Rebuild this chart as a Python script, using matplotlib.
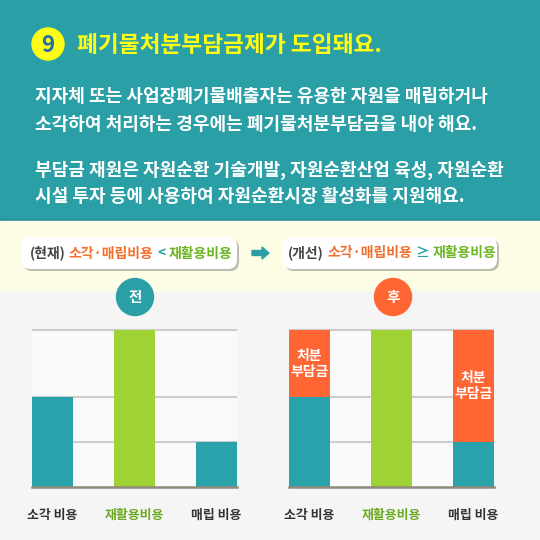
import matplotlib
matplotlib.use("Agg")
import matplotlib.pyplot as plt
from matplotlib.patches import Rectangle, Circle, FancyBboxPatch, FancyArrow
from matplotlib.offsetbox import TextArea, HPacker, AnnotationBbox

plt.rcParams['font.family'] = ['Noto Sans CJK KR', 'DejaVu Sans']

# ---------------- data ----------------
categories = ['소각 비용', '재활용비용', '매립 비용']
label_colors = ['#333333', '#6aaa1f', '#333333']
before_costs = [2.0, 3.5, 1.0]
after_base_costs = [2.0, 3.5, 1.0]
after_burden = [1.5, 0.0, 2.5]
before_colors = ['#29a2ab', '#9ed235', '#29a2ab']
after_colors = ['#29a2ab', '#9ed235', '#29a2ab']
grid_levels = [1.0, 2.0, 3.5]
burden_label = '처분\n부담금'

title_num = '9'
title = '폐기물처분부담금제가 도입돼요.'
body_lines = ['지자체 또는 사업장폐기물배출자는 유용한 자원을 매립하거나',
              '소각하여 처리하는 경우에는 폐기물처분부담금을 내야 해요.',
              '부담금 재원은 자원순환 기술개발, 자원순환산업 육성, 자원순환',
              '시설 투자 등에 사용하여 자원순환시장 활성화를 지원해요.']
pill_left = [('(현재)', '#444444'), ('소각·매립비용', '#f26f2e'), ('<', '#2a9fa6'), ('재활용비용', '#6cb523')]
pill_right = [('(개선)', '#444444'), ('소각·매립비용', '#f26f2e'), ('≥', '#2a9fa6'), ('재활용비용', '#6cb523')]
badge_before = '전'
badge_after = '후'

TEAL = '#2a9fa6'
ORANGE = '#ff6633'

W = H = 540
fig = plt.figure(figsize=(5.4, 5.4), dpi=100)
fig.patch.set_facecolor('#f5f5f5')

bg = fig.add_axes([0, 0, 1, 1])
bg.set_xlim(0, W)
bg.set_ylim(H, 0)
bg.axis('off')

# backgrounds
bg.add_patch(Rectangle((0, 0), W, 221, color=TEAL, zorder=0))
bg.add_patch(Rectangle((0, 219), W, 2, color='#23939a', zorder=0))
bg.add_patch(Rectangle((0, 221), W, 69, color='#fdfde6', zorder=0))

# title
bg.add_patch(Circle((48, 44), 16, color='#ffff14', zorder=2))
bg.text(48, 45, title_num, color='#1f6fae', fontsize=16, fontweight='bold',
        ha='center', va='center', zorder=3)
bg.text(77, 45, title, color='#ffff14', fontsize=16.3, fontweight='bold',
        ha='left', va='center', zorder=3)
for y, line in zip([97, 125, 170, 197], body_lines):
    bg.text(35, y, line, color='white', fontsize=13, fontweight='bold',
            ha='left', va='center', zorder=3)

# pills
def pill(x0, x1, y0, y1, parts):
    bg.add_patch(FancyBboxPatch((x0 + 2, y0 + 2), x1 - x0, y1 - y0,
                                boxstyle='round,pad=0,rounding_size=9',
                                fc='#bdbdb0', ec='none', zorder=1))
    bg.add_patch(FancyBboxPatch((x0, y0), x1 - x0, y1 - y0,
                                boxstyle='round,pad=0,rounding_size=9',
                                fc='white', ec='none', zorder=2))
    children = [TextArea(t, textprops=dict(color=c, fontsize=10, fontweight='bold'))
                for t, c in parts]
    pack = HPacker(children=children, sep=2.5, pad=0, align='baseline')
    ab = AnnotationBbox(pack, ((x0 + x1) / 2 + 2, (y0 + y1) / 2), xycoords='data',
                        frameon=False, box_alignment=(0.5, 0.5), pad=0, zorder=3)
    bg.add_artist(ab)

pill(21, 237, 237, 269, pill_left)
pill(283, 497, 237, 269, pill_right)
bg.add_patch(FancyArrow(252, 253, 10, 0, width=5, head_width=12, head_length=7,
                        length_includes_head=False, color=TEAL, zorder=3))

# badges
bg.add_patch(Circle((135, 297), 18.5, color=TEAL, zorder=3))
bg.text(135, 297, badge_before, color='white', fontsize=10.5, fontweight='bold',
        ha='center', va='center', zorder=4)
bg.add_patch(Circle((393, 297), 18.5, color=ORANGE, zorder=3))
bg.text(393, 297, badge_after, color='white', fontsize=10.5, fontweight='bold',
        ha='center', va='center', zorder=4)

# bar charts
def px_axes(x0, x1, ytop, ybot):
    return fig.add_axes([x0 / W, 1 - ybot / H, (x1 - x0) / W, (ybot - ytop) / H])

xpos = [0, 2, 4]

def setup(ax):
    ax.set_xlim(-0.5, 4.5)
    ax.set_ylim(0, max(grid_levels))
    ax.set_facecolor('#fafafa')
    for s in ax.spines.values():
        s.set_visible(False)
    ax.hlines(grid_levels, -0.5, 4.5, colors='#cdcdcd', lw=1.5, zorder=1, clip_on=False)
    ax.axhline(0, color='#8f8a7a', lw=1.8, zorder=4, clip_on=False)
    ax.set_yticks([])
    ax.set_xticks(xpos)
    ax.set_xticklabels(categories, fontsize=9.3, fontweight='bold')
    for lbl, c in zip(ax.get_xticklabels(), label_colors):
        lbl.set_color(c)
    ax.tick_params(axis='x', length=0, pad=15)

ax1 = px_axes(32, 237, 330, 487)
setup(ax1)
ax1.bar(xpos, before_costs, width=1.0, color=before_colors, zorder=2)

ax2 = px_axes(289, 494, 330, 487)
setup(ax2)
ax2.bar(xpos, after_base_costs, width=1.0, color=after_colors, zorder=2)
ax2.bar(xpos, after_burden, width=1.0, bottom=after_base_costs, color=ORANGE, zorder=2)
for x, b, h in zip(xpos, after_base_costs, after_burden):
    if h > 0:
        ax2.text(x, b + h / 2, burden_label, color='white', fontsize=10,
                 fontweight='bold', ha='center', va='center', linespacing=1.2, zorder=5)

fig.savefig('out.png', dpi=100, facecolor=fig.get_facecolor())
